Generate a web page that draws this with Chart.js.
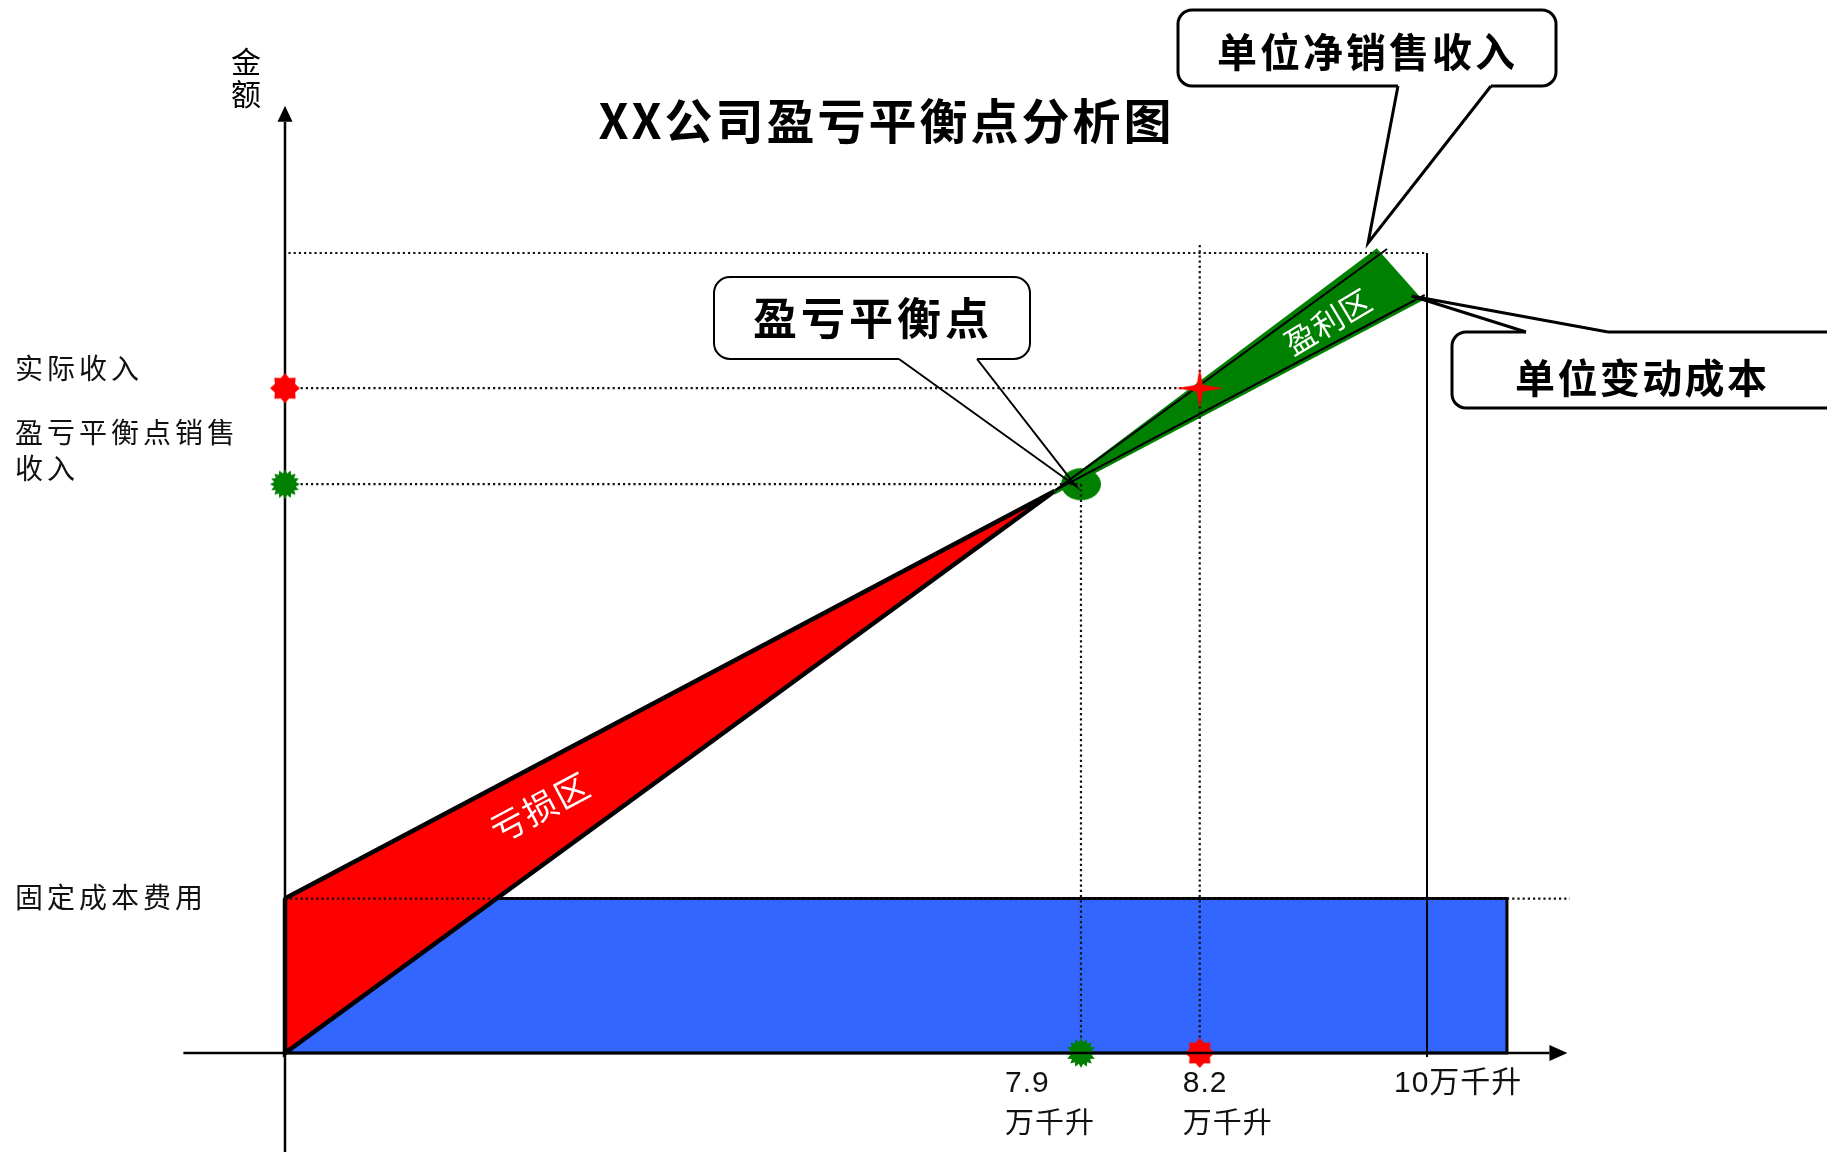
<!DOCTYPE html>
<html>
<head>
<meta charset="utf-8">
<title>XX公司盈亏平衡点分析图</title>
<script src="https://cdn.jsdelivr.net/npm/chart.js@4.4.1/dist/chart.umd.min.js"></script>
<style>
  html, body { margin: 0; padding: 0; background: #fff; }
  #wrap { width: 1827px; height: 1152px; position: relative; }
</style>
</head>
<body>
<div id="wrap"><canvas id="bep-chart"></canvas></div>
<script>
// the original is a schematic drawing, not to scale: values are read off the picture
// x = sales volume (schematic units), y = amount (schematic units)
var fixedCost = 1.93;
var breakEven = { x: 6.97, y: 7.11 };
var actual = { x: 8.01, y: 8.31 };
var fullVolume = 10;
var topAmount = 10;

var revenueLine = [{ x: 6.74, y: 7.03 }, { x: 9.65, y: 10.05 }];
var costLine = [{ x: 6.74, y: 7.03 }, { x: 9.98, y: 9.475 }];
var lossZone = [{ x: 0, y: 1.93 }, { x: 6.74, y: 7.025 }, { x: 0, y: 0 }, { x: 0, y: 1.93 }];
var profitZone = [{ x: 6.74, y: 7.04 }, { x: 9.56, y: 10.06 }, { x: 9.965, y: 9.41 }, { x: 6.74, y: 6.98 }, { x: 6.74, y: 7.04 }];
var fixedCostBox = [{ x: 0, y: 0 }, { x: 0, y: 1.93 }, { x: 10.7, y: 1.93 }, { x: 10.7, y: 0 }, { x: 0, y: 0 }];

var xTickValues = [6.97, 8.01, 10];
var xTickLabels = [["7.9", "万千升"], ["8.2", "万千升"], ["10万千升"]];
var yLabelValues = [8.31, 7.11, 1.93];
var yLabelTexts = [["实际收入"], ["盈亏平衡点销售", "收入"], ["固定成本费用"]];

var xRange = { min: -2.4956, max: 13.5026 };
var yRange = { min: -1.2375, max: 13.1625 };

function starCanvas(points, rx, ry, inner, color) {
  var w = Math.ceil(rx * 2 + 2), h = Math.ceil(ry * 2 + 2);
  var c = document.createElement("canvas");
  c.width = w; c.height = h;
  var g = c.getContext("2d");
  g.fillStyle = color;
  g.beginPath();
  for (var i = 0; i < points * 2; i++) {
    var a = -Math.PI / 2 + i * Math.PI / points;
    var kx = i % 2 === 0 ? rx : inner, ky = i % 2 === 0 ? ry : inner;
    g.lineTo(w / 2 + kx * Math.cos(a), h / 2 + ky * Math.sin(a));
  }
  g.closePath();
  g.fill();
  return c;
}

function ellipseCanvas(rx, ry, color) {
  var c = document.createElement("canvas");
  c.width = rx * 2 + 2; c.height = ry * 2 + 2;
  var g = c.getContext("2d");
  g.fillStyle = color;
  g.beginPath();
  g.ellipse(rx + 1, ry + 1, rx, ry, 0, 0, Math.PI * 2);
  g.fill();
  return c;
}

var redSeal = starCanvas(8, 15, 15, 11, "#ff0000");
var greenBurst = starCanvas(16, 15, 15, 11, "#008000");
var redSpark = starCanvas(4, 24, 20, 4.5, "#ff0000");
var greenDot = ellipseCanvas(20, 16, "#008000");

function dotted(pts) {
  return {
    data: pts, borderColor: "#111", borderWidth: 2.2, borderDash: [2.2, 3],
    pointRadius: 0, fill: false, order: 14
  };
}

function spacedText(ctx, text, x, y, gap, align) {
  var chars = Array.from(text);
  var widths = chars.map(function (c) { return ctx.measureText(c).width; });
  var total = widths.reduce(function (a, b) { return a + b; }, 0) + gap * (chars.length - 1);
  var sx = align === "center" ? x - total / 2 : (align === "right" ? x - total : x);
  ctx.textAlign = "left";
  chars.forEach(function (c, i) {
    ctx.fillText(c, sx, y);
    sx += widths[i] + gap;
  });
}

function roundRectPath(ctx, x, y, w, h, r) {
  ctx.beginPath();
  ctx.moveTo(x + r, y);
  ctx.lineTo(x + w - r, y);
  ctx.arcTo(x + w, y, x + w, y + r, r);
  ctx.lineTo(x + w, y + h - r);
  ctx.arcTo(x + w, y + h, x + w - r, y + h, r);
  ctx.lineTo(x + r, y + h);
  ctx.arcTo(x, y + h, x, y + h - r, r);
  ctx.lineTo(x, y + r);
  ctx.arcTo(x, y, x + r, y, r);
  ctx.closePath();
}

function callout(ctx, box, b1, b2, tip, lw) {
  ctx.save();
  ctx.lineWidth = lw;
  ctx.strokeStyle = "#000";
  ctx.fillStyle = "#fff";
  roundRectPath(ctx, box[0], box[1], box[2], box[3], box[4]);
  ctx.fill();
  ctx.stroke();
  // open the border where the pointer leaves the box
  ctx.strokeStyle = "#fff";
  ctx.lineWidth = lw + 2;
  ctx.beginPath();
  ctx.moveTo(b1[0], b1[1]);
  ctx.lineTo(b2[0], b2[1]);
  ctx.stroke();
  ctx.strokeStyle = "#000";
  ctx.lineWidth = lw;
  ctx.lineJoin = "miter";
  ctx.beginPath();
  ctx.moveTo(b1[0], b1[1]);
  ctx.lineTo(tip[0], tip[1]);
  ctx.lineTo(b2[0], b2[1]);
  ctx.stroke();
  ctx.restore();
}

function arrow(ctx, x1, y1, x2, y2, lw, len, half) {
  var a = Math.atan2(y2 - y1, x2 - x1);
  ctx.lineWidth = lw;
  ctx.strokeStyle = "#000";
  ctx.fillStyle = "#000";
  ctx.beginPath();
  ctx.moveTo(x1, y1);
  ctx.lineTo(x2 - len * Math.cos(a), y2 - len * Math.sin(a));
  ctx.stroke();
  ctx.beginPath();
  ctx.moveTo(x2, y2);
  ctx.lineTo(x2 - len * Math.cos(a) + half * Math.sin(a), y2 - len * Math.sin(a) - half * Math.cos(a));
  ctx.lineTo(x2 - len * Math.cos(a) - half * Math.sin(a), y2 - len * Math.sin(a) + half * Math.cos(a));
  ctx.closePath();
  ctx.fill();
}

var axesPlugin = {
  id: "arrowAxes",
  beforeDatasetsDraw: function (chart) {
    var ctx = chart.ctx, xs = chart.scales.x, ys = chart.scales.y;
    var x0 = xs.getPixelForValue(0);
    ctx.save();
    arrow(ctx, x0, ys.getPixelForValue(yRange.min), x0, ys.getPixelForValue(11.84), 2.5, 16, 7.5);
    ctx.restore();
  },
  afterDatasetsDraw: function (chart) {
    var ctx = chart.ctx, xs = chart.scales.x, ys = chart.scales.y;
    var y0 = ys.getPixelForValue(0);
    ctx.save();
    arrow(ctx, xs.getPixelForValue(-0.89), y0, xs.getPixelForValue(11.23), y0, 2.5, 18, 8);
    ctx.restore();
  }
};

var textPlugin = {
  id: "bepTexts",
  afterDraw: function (chart) {
    var ctx = chart.ctx, xs = chart.scales.x, ys = chart.scales.y;
    var cjk = '"Noto Sans CJK SC", sans-serif';
    ctx.save();
    ctx.textBaseline = "middle";
    ctx.fillStyle = "#000";

    // title
    ctx.font = "bold 48px " + cjk;
    spacedText(ctx, "XX公司盈亏平衡点分析图", 885, 121, 3, "center");

    // y axis name, written vertically
    ctx.font = "30px " + cjk;
    ctx.textAlign = "center";
    ctx.fillText("金", 246, 62);
    ctx.fillText("额", 246, 94);

    // labels left of the y axis
    var yLabelDy = [[-20], [-52, -16], [-1]];
    ctx.font = "28px " + cjk;
    ctx.fillStyle = "#111";
    yLabelValues.forEach(function (v, i) {
      var py = ys.getPixelForValue(v);
      yLabelTexts[i].forEach(function (t, j) {
        spacedText(ctx, t, 15, py + yLabelDy[i][j], 4, "left");
      });
    });

    // x tick labels under the axis
    var xLabelDx = [-76, -17, -33];
    var y0 = ys.getPixelForValue(0);
    xTickValues.forEach(function (v, i) {
      var lx = xs.getPixelForValue(v) + xLabelDx[i];
      xTickLabels[i].forEach(function (t, j) {
        ctx.font = (j === 0 ? '30px "Liberation Sans", ' : "29px ") + cjk;
        spacedText(ctx, t, lx, y0 + 31 + j * 38, 1, "left");
      });
    });

    // zone names
    ctx.fillStyle = "#fff";
    ctx.font = "34px " + cjk;
    ctx.save();
    ctx.translate(xs.getPixelForValue(2.23), ys.getPixelForValue(3.07));
    ctx.rotate(-28 * Math.PI / 180);
    spacedText(ctx, "亏损区", 0, 0, 2, "center");
    ctx.restore();
    ctx.font = "31px " + cjk;
    ctx.save();
    ctx.translate(xs.getPixelForValue(9.13), ys.getPixelForValue(9.14));
    ctx.rotate(-31 * Math.PI / 180);
    spacedText(ctx, "盈利区", 0, 0, 1, "center");
    ctx.restore();

    // callouts
    var rev = revenueLine[revenueLine.length - 1], cost = costLine[costLine.length - 1];
    callout(ctx, [1178, 10, 378, 76, 14], [1398, 86], [1491, 86],
      [xs.getPixelForValue(rev.x) - 19, ys.getPixelForValue(rev.y) - 6], 3);
    callout(ctx, [1452, 332, 400, 76, 14], [1526, 332], [1608, 332],
      [xs.getPixelForValue(cost.x) - 13, ys.getPixelForValue(cost.y) + 1], 3);
    callout(ctx, [714, 277, 316, 82, 16], [899, 359], [977, 359],
      [xs.getPixelForValue(breakEven.x) - 5, ys.getPixelForValue(breakEven.y) + 2], 2);

    ctx.fillStyle = "#000";
    ctx.font = "bold 40px " + cjk;
    spacedText(ctx, "单位净销售收入", 1366, 52, 3, "center");
    spacedText(ctx, "单位变动成本", 1641, 378, 2.4, "center");
    ctx.font = "bold 44px " + cjk;
    spacedText(ctx, "盈亏平衡点", 871, 318, 4, "center");
    ctx.restore();
  }
};

var datasets = [
  { data: fixedCostBox, borderColor: "#000", borderWidth: 3, backgroundColor: "#3366ff",
    fill: "shape", pointRadius: 0, borderJoinStyle: "miter", order: 20 },
  { data: lossZone, borderColor: "#000", borderWidth: 4.5, backgroundColor: "#ff0000",
    fill: "shape", pointRadius: 0, borderJoinStyle: "miter", order: 18 },
  { data: profitZone, borderWidth: 0, borderColor: "rgba(0,0,0,0)", backgroundColor: "#008000",
    fill: "shape", pointRadius: 0, order: 17 },
  { data: [breakEven], showLine: false, pointStyle: greenDot, pointRadius: 10, order: 16.5 },
  { data: revenueLine, borderColor: "#000", borderWidth: 2, pointRadius: 0, fill: false, order: 16 },
  { data: costLine, borderColor: "#000", borderWidth: 2, pointRadius: 0, fill: false, order: 16 },
  dotted([{ x: 0.03, y: topAmount }, { x: fullVolume, y: topAmount }]),
  dotted([{ x: 0, y: actual.y }, { x: actual.x, y: actual.y }]),
  dotted([{ x: 0, y: breakEven.y }, { x: breakEven.x, y: breakEven.y }]),
  dotted([{ x: 0, y: fixedCost }, { x: 11.25, y: fixedCost }]),
  dotted([{ x: breakEven.x, y: breakEven.y }, { x: breakEven.x, y: 0 }]),
  dotted([{ x: actual.x, y: 10.1 }, { x: actual.x, y: 0 }]),
  { data: [{ x: fullVolume, y: topAmount }, { x: fullVolume, y: -0.05 }], borderColor: "#000",
    borderWidth: 2, pointRadius: 0, fill: false, order: 14 },
  { data: [{ x: 0, y: actual.y }, { x: actual.x, y: 0 }], showLine: false,
    pointStyle: redSeal, pointRadius: 10, order: 2 },
  { data: [{ x: 0, y: breakEven.y }, { x: breakEven.x, y: 0 }], showLine: false,
    pointStyle: greenBurst, pointRadius: 10, order: 2 },
  { data: [actual], showLine: false, pointStyle: redSpark, pointRadius: 10, order: 1 }
];

new Chart(document.getElementById("bep-chart").getContext("2d"), {
  type: "line",
  data: { datasets: datasets },
  options: {
    responsive: true,
    maintainAspectRatio: false,
    animation: false,
    events: [],
    layout: { padding: 0, autoPadding: false },
    elements: { line: { tension: 0 } },
    plugins: { legend: { display: false }, tooltip: { enabled: false } },
    scales: {
      x: { type: "linear", min: xRange.min, max: xRange.max, display: false },
      y: { type: "linear", min: yRange.min, max: yRange.max, display: false }
    }
  },
  plugins: [axesPlugin, textPlugin]
});
</script>
</body>
</html>
